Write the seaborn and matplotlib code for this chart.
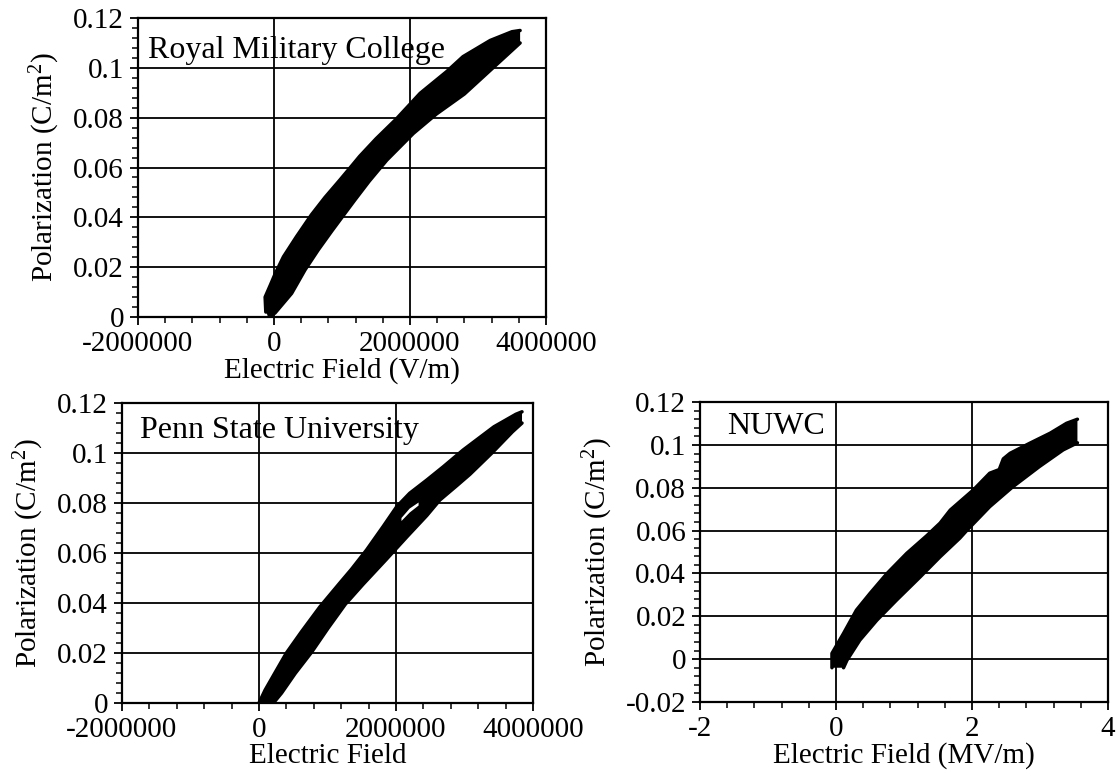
import numpy as np
import pandas as pd
import matplotlib
matplotlib.use("Agg")
import matplotlib.pyplot as plt
from matplotlib.ticker import MultipleLocator, FixedLocator
import seaborn as sns

# ---------------- data ----------------
# Royal Military College: field in V/m, polarization in C/m^2
rmc_desc_E = [-120000, -130000, -50000, 20000, 140000, 330000, 550000, 750000, 970000,
              1160000, 1260000, 1500000, 1800000, 2150000, 2540000, 2780000, 3180000,
              3500000, 3620000]
rmc_desc_P = [0.002, 0.008, 0.013, 0.0175, 0.0242, 0.0322, 0.041, 0.048, 0.055,
              0.0612, 0.0645, 0.0715, 0.0795, 0.0898, 0.0985, 0.1045, 0.111, 0.1145, 0.115]
rmc_asc_E = [-80000, 15000, 260000, 456000, 650000, 850000, 1040000, 1190000, 1400000,
             1660000, 2050000, 2390000, 2800000, 3180000, 3500000, 3620000]
rmc_asc_P = [0.0, 0.0016, 0.0095, 0.0189, 0.0269, 0.0345, 0.0415, 0.047, 0.0545,
             0.063, 0.0737, 0.0815, 0.0895, 0.099, 0.107, 0.110]

# Penn State University: field in V/m
psu_desc_E = [0, 90000, 230000, 400000, 620000, 890000, 1180000, 1350000, 1570000,
              1810000, 2010000, 2200000, 2450000, 2690000, 2980000, 3430000, 3750000, 3840000]
psu_desc_P = [0.0, 0.0052, 0.0119, 0.0200, 0.0285, 0.0385, 0.048, 0.0535, 0.0612,
              0.0705, 0.0785, 0.0839, 0.0892, 0.0945, 0.1012, 0.1105, 0.1155, 0.1165]
psu_asc_E = [210000, 330000, 530000, 770000, 1010000, 1260000, 1520000, 1860000, 2160000,
             2450000, 2640000, 2890000, 3080000, 3400000, 3700000, 3840000]
psu_asc_P = [0.0, 0.004, 0.0119, 0.0204, 0.030, 0.0395, 0.0475, 0.0575, 0.0665,
             0.0750, 0.0812, 0.0870, 0.0915, 0.1000, 0.1085, 0.112]
psu_gap_E = [2080000, 2200000, 2330000]
psu_gap_upper_P = [0.0740, 0.0778, 0.0802]
psu_gap_lower_P = [0.0728, 0.0762, 0.0790]

# NUWC: field in MV/m
nuwc_desc_E = [-0.06, -0.06, 0.11, 0.30, 0.50, 0.75, 1.04, 1.33, 1.53, 1.68, 2.02, 2.26,
               2.40, 2.46, 2.56, 2.85, 3.15, 3.39, 3.55]
nuwc_desc_P = [-0.004, 0.0027, 0.012, 0.0229, 0.0307, 0.040, 0.0494, 0.0575, 0.0635,
               0.0696, 0.079, 0.0868, 0.0885, 0.0935, 0.0961, 0.1008, 0.1055, 0.1101, 0.112]
nuwc_asc_E = [0.11, 0.16, 0.35, 0.60, 0.89, 1.24, 1.53, 1.82, 1.92, 2.26, 2.60, 2.99, 3.34, 3.55]
nuwc_asc_P = [-0.004, -0.0005, 0.0089, 0.0182, 0.0276, 0.0385, 0.0478, 0.0565, 0.0600,
              0.0712, 0.0805, 0.0899, 0.0977, 0.101]

# ticks / labels
vm_xticks = [-2000000, 0, 2000000, 4000000]
vm_xticklabels = ["-2000000", "0", "2000000", "4000000"]
mv_xticks = [-2, 0, 2, 4]
mv_xticklabels = ["-2", "0", "2", "4"]
p_yticks = [0, 0.02, 0.04, 0.06, 0.08, 0.1, 0.12]
p_yticklabels = ["0", "0.02", "0.04", "0.06", "0.08", "0.1", "0.12"]
p_yticks_neg = [-0.02, 0, 0.02, 0.04, 0.06, 0.08, 0.1, 0.12]
p_yticklabels_neg = ["-0.02", "0", "0.02", "0.04", "0.06", "0.08", "0.1", "0.12"]

titles = ["Royal Military College", "Penn State University", "NUWC"]
xlabels = ["Electric Field (V/m)", "Electric Field", "Electric Field (MV/m)"]
ylabel = r"Polarization (C/m$\mathregular{^2}$)"

# ---------------- style ----------------
sns.set_theme(style="ticks")
plt.rcParams["font.family"] = ["Liberation Serif", "DejaVu Serif"]
plt.rcParams["mathtext.fontset"] = "custom"
plt.rcParams["mathtext.rm"] = "Liberation Serif"
plt.rcParams["axes.unicode_minus"] = False

fig = plt.figure(figsize=(11.19, 7.77), dpi=100)
fig.patch.set_facecolor("white")

ax_rmc = fig.add_axes([0.1233, 0.592, 0.3646, 0.3848])
ax_psu = fig.add_axes([0.109, 0.0952, 0.3673, 0.3861])
ax_nuwc = fig.add_axes([0.6256, 0.0965, 0.3646, 0.386])


def draw_band(ax, dE, dP, aE, aP):
    poly_E = list(dE) + list(aE)[::-1]
    poly_P = list(dP) + list(aP)[::-1]
    ax.fill(poly_E, poly_P, color="black", lw=0, zorder=3)
    for E, P in ((dE, dP), (aE, aP)):
        df = pd.DataFrame({"E": E, "P": P})
        sns.lineplot(data=df, x="E", y="P", sort=False, estimator=None,
                     color="black", lw=2.5, ax=ax, zorder=4)


def style_axes(ax, xlim, xticks, xtl, xminor, ylim, yticks, ytl, title, tx, ty, xl):
    ax.set_xlim(*xlim)
    ax.set_ylim(*ylim)
    ax.xaxis.set_major_locator(FixedLocator(xticks))
    ax.set_xticklabels(xtl)
    ax.yaxis.set_major_locator(FixedLocator(yticks))
    ax.set_yticklabels(ytl)
    ax.xaxis.set_minor_locator(MultipleLocator(xminor))
    ax.yaxis.set_minor_locator(MultipleLocator(0.004))
    ax.grid(True, which="major", color="black", lw=1.3)
    ax.set_axisbelow(True)
    for s in ax.spines.values():
        s.set_color("black")
        s.set_linewidth(1.6)
    ax.tick_params(axis="both", which="major", direction="out", length=6,
                   width=1.3, color="black", labelsize=21, labelcolor="black")
    ax.tick_params(axis="x", which="major", pad=4)
    ax.tick_params(axis="y", which="major", pad=4)
    ax.tick_params(axis="both", which="minor", direction="out", length=4,
                   width=1.1, color="black")
    ax.set_xlabel(xl, fontsize=21, color="black", labelpad=0)
    ax.set_ylabel(ylabel, fontsize=21, color="black", labelpad=8)
    ax.text(tx, ty, title, transform=ax.transAxes, fontsize=23,
            ha="left", va="center", color="black", zorder=5)
    ax.set_facecolor("white")


draw_band(ax_rmc, rmc_desc_E, rmc_desc_P, rmc_asc_E, rmc_asc_P)
style_axes(ax_rmc, (-2000000, 4000000), vm_xticks, vm_xticklabels, 400000,
           (0, 0.12), p_yticks, p_yticklabels, titles[0], 0.025, 0.893, xlabels[0])

draw_band(ax_psu, psu_desc_E, psu_desc_P, psu_asc_E, psu_asc_P)
ax_psu.fill(list(psu_gap_E) + list(psu_gap_E)[::-1],
            list(psu_gap_upper_P) + list(psu_gap_lower_P)[::-1],
            color="white", lw=0, zorder=5)
style_axes(ax_psu, (-2000000, 4000000), vm_xticks, vm_xticklabels, 400000,
           (0, 0.12), p_yticks, p_yticklabels, titles[1], 0.044, 0.91, xlabels[1])

draw_band(ax_nuwc, nuwc_desc_E, nuwc_desc_P, nuwc_asc_E, nuwc_asc_P)
style_axes(ax_nuwc, (-2, 4), mv_xticks, mv_xticklabels, 0.4,
           (-0.02, 0.12), p_yticks_neg, p_yticklabels_neg, titles[2], 0.066, 0.92, xlabels[2])

fig.savefig("out.png", dpi=100, facecolor="white")
